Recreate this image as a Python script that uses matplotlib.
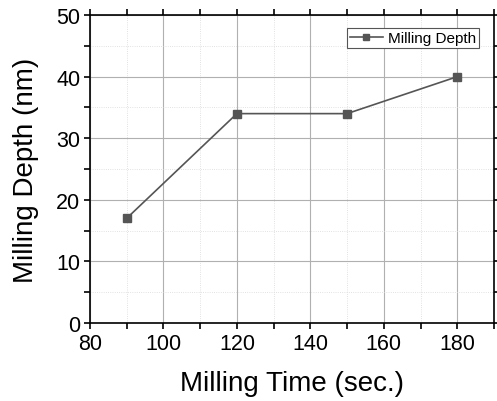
import matplotlib
matplotlib.use('Agg')
import matplotlib.pyplot as plt
from matplotlib.ticker import MultipleLocator

# data
milling_time = [90, 120, 150, 180]
milling_depth = [17, 34, 34, 40]

plt.rcParams['font.family'] = ['Liberation Sans', 'DejaVu Sans']

fig = plt.figure(figsize=(4.97, 4.02), dpi=100)
ax = fig.add_axes([0.181, 0.194, 0.813, 0.766])

ax.plot(milling_time, milling_depth, color='#555555', linewidth=1.2,
        marker='s', markersize=5.5, label='Milling Depth')

ax.set_xlim(80, 190)
ax.set_ylim(0, 50)
ax.xaxis.set_major_locator(MultipleLocator(20))
ax.xaxis.set_minor_locator(MultipleLocator(10))
ax.yaxis.set_major_locator(MultipleLocator(10))
ax.yaxis.set_minor_locator(MultipleLocator(5))

ax.grid(which='major', color='#b0b0b0', linewidth=0.8)
ax.grid(which='minor', color='#d8d8d8', linewidth=0.6, linestyle=':')
ax.set_axisbelow(True)

for s in ax.spines.values():
    s.set_linewidth(1.2)
    s.set_color('black')

ax.tick_params(which='both', direction='out', top=True, right=True,
               labeltop=False, labelright=False, width=1.2)
ax.tick_params(which='major', length=4, labelsize=15.5, pad=3)
ax.tick_params(which='minor', length=4)

ax.set_xlabel('Milling Time (sec.)', fontsize=20, labelpad=12)
ax.set_ylabel('Milling Depth (nm)', fontsize=20, labelpad=12)

leg = ax.legend(loc='upper right', fontsize=11, fancybox=False,
                edgecolor='#555555', framealpha=1, borderpad=0.2,
                borderaxespad=0, handlelength=2.2, handletextpad=0.3,
                markerscale=0.8, bbox_to_anchor=(0.963, 0.958))
leg.get_frame().set_linewidth(0.8)

fig.savefig('out.png', dpi=100)
